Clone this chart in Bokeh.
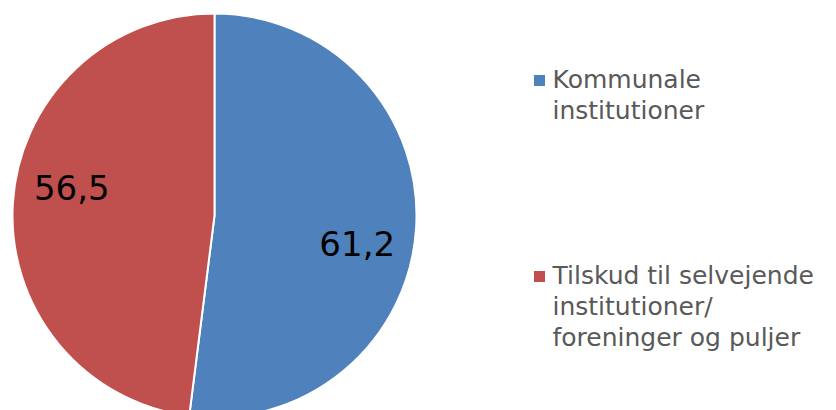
import math
from bokeh.plotting import figure
from bokeh.models import Range1d, ColumnDataSource
from bokeh.core.properties import value
from bokeh.embed import file_html
from bokeh.resources import INLINE

# ---- data ----
categories = ["Kommunale institutioner",
              "Tilskud til selvejende institutioner/ foreninger og puljer"]
values = [61.2, 56.5]
value_labels = ["61,2", "56,5"]
legend_lines = [["Kommunale", "institutioner"],
                ["Tilskud til selvejende", "institutioner/", "foreninger og puljer"]]
colors = ["#4F81BD", "#C0504D"]

# ---- geometry (screen pixel coords -> data with y up) ----
W, H = 820, 410

def Y(py):
    return H - py

cx, cy, R = 214, Y(215), 202

p = figure(width=W, height=H, output_backend="svg", toolbar_location=None,
           x_range=Range1d(0, W), y_range=Range1d(0, H),
           min_border=0, outline_line_color=None)
p.axis.visible = False
p.grid.visible = False
p.background_fill_color = "white"
p.border_fill_color = "white"

total = sum(values)
starts, ends, mids = [], [], []
a = math.pi / 2
for v in values:
    sweep = 2 * math.pi * v / total
    starts.append(a - sweep)
    ends.append(a)
    mids.append(a - sweep / 2)
    a -= sweep

src = ColumnDataSource(dict(x=[cx] * len(values), y=[cy] * len(values),
                            start=starts, end=ends, color=colors))
p.wedge(x="x", y="y", radius=R, start_angle="start", end_angle="end",
        fill_color="color", line_color="white", line_width=2, source=src)

# data labels (centred on cap height)
rot = math.radians(7.5)
lr = 0.72 * R
lx = [cx + lr * math.cos(m - rot) for m in mids]
ly = [cy + lr * math.sin(m - rot) for m in mids]
p.text(x=lx, y=ly, text=value_labels, text_font=value("DejaVu Sans"),
       text_font_size="34px", text_color="black", text_align="center",
       text_baseline="middle")

# legend
entry_tops = [79, 275]
line_gap = 31
tx, ty, tt = [], [], []
for lines, b in zip(legend_lines, entry_tops):
    for i, ln in enumerate(lines):
        tx.append(552)
        ty.append(Y(b + i * line_gap))
        tt.append(ln)
p.text(x=tx, y=ty, text=tt, text_font=value("DejaVu Sans"),
       text_font_size="25px", text_color="#595959", text_align="left",
       text_baseline="middle")
p.scatter(x=[539] * len(colors), y=[Y(b + 1) for b in entry_tops],
          marker="square", size=11, fill_color=colors, line_color=None)

open("out.html", "w").write(file_html(p, INLINE))
